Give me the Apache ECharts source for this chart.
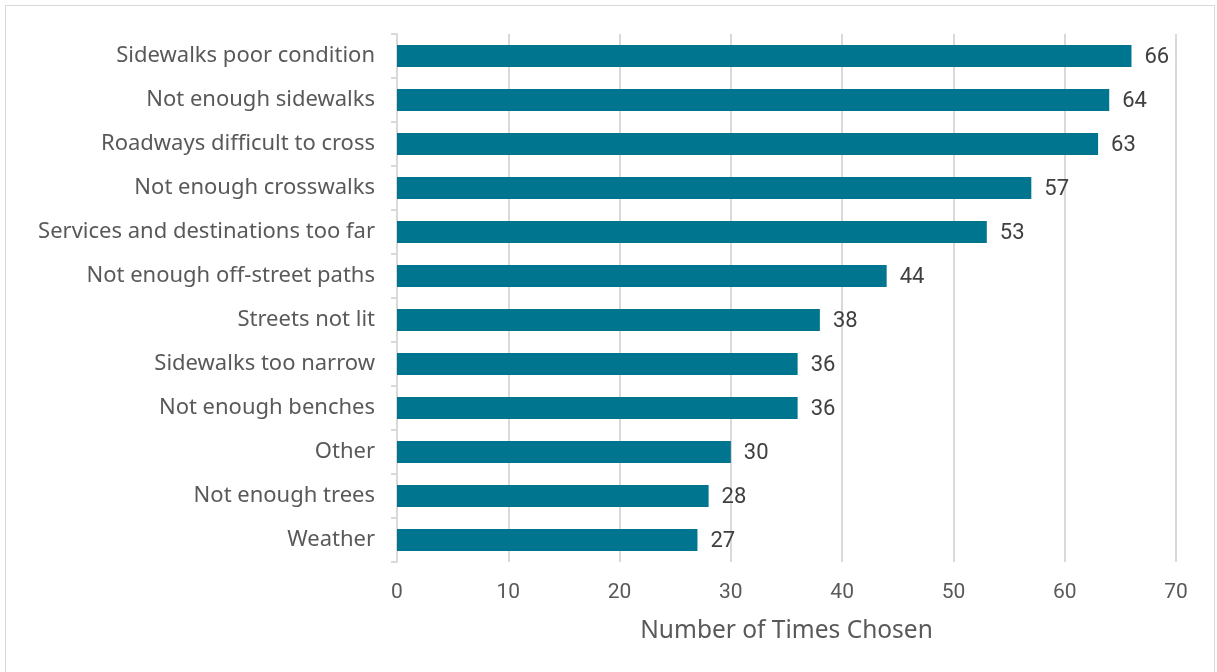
<!DOCTYPE html>
<html>
<head>
<meta charset="utf-8">
<script src="https://cdn.jsdelivr.net/npm/echarts@6/dist/echarts.min.js"></script>
<style>
  html, body { margin: 0; padding: 0; background: #fff; }
  #frame { position: absolute; left: 5px; top: 5px; width: 1210px; height: 680px; border: 1px solid #d9d9d9; box-sizing: border-box; }
  #chart { width: 1217px; height: 672px; }
</style>
</head>
<body>
<div id="frame"></div>
<div id="chart"></div>
<script>
// categories listed bottom to top (category axis starts at the bottom)
var categories = [
  'Weather', 'Not enough trees', 'Other', 'Not enough benches',
  'Sidewalks too narrow', 'Streets not lit', 'Not enough off-street paths',
  'Services and destinations too far', 'Not enough crosswalks',
  'Roadways difficult to cross', 'Not enough sidewalks', 'Sidewalks poor condition'
];
var timesChosen = [27, 28, 30, 36, 36, 38, 44, 53, 57, 63, 64, 66];
var axisTitle = 'Number of Times Chosen';

var font = 'Noto Sans';
var chart = echarts.init(document.getElementById('chart'));
chart.setOption({
  animation: false,
  grid: { left: 397, right: 41, top: 34, bottom: 110, containLabel: false },
  xAxis: {
    type: 'value',
    min: 0, max: 70, interval: 10,
    name: axisTitle,
    nameLocation: 'middle',
    nameGap: 57,
    nameTextStyle: { fontFamily: font, fontSize: 24.5, color: '#595959' },
    axisLine: { show: false },
    axisTick: { show: false },
    axisLabel: { fontFamily: 'Roboto', fontSize: 21, color: '#595959', margin: 20 },
    splitLine: { show: true, lineStyle: { color: '#d9d9d9', width: 2 } }
  },
  yAxis: {
    type: 'category',
    data: categories,
    axisLine: { show: true, lineStyle: { color: '#d9d9d9', width: 2 } },
    axisTick: { show: true, length: 6, lineStyle: { color: '#d9d9d9', width: 2 } },
    axisLabel: { fontFamily: font, fontSize: 22, color: '#595959', margin: 22, padding: [5, 0, 0, 0] }
  },
  series: [{
    type: 'bar',
    data: timesChosen,
    barWidth: 22,
    itemStyle: { color: '#00758f' },
    label: {
      show: true, position: 'right', distance: 13,
      fontFamily: 'Roboto', fontSize: 22, color: '#404040', offset: [0, 1]
    }
  }]
});
</script>
</body>
</html>
